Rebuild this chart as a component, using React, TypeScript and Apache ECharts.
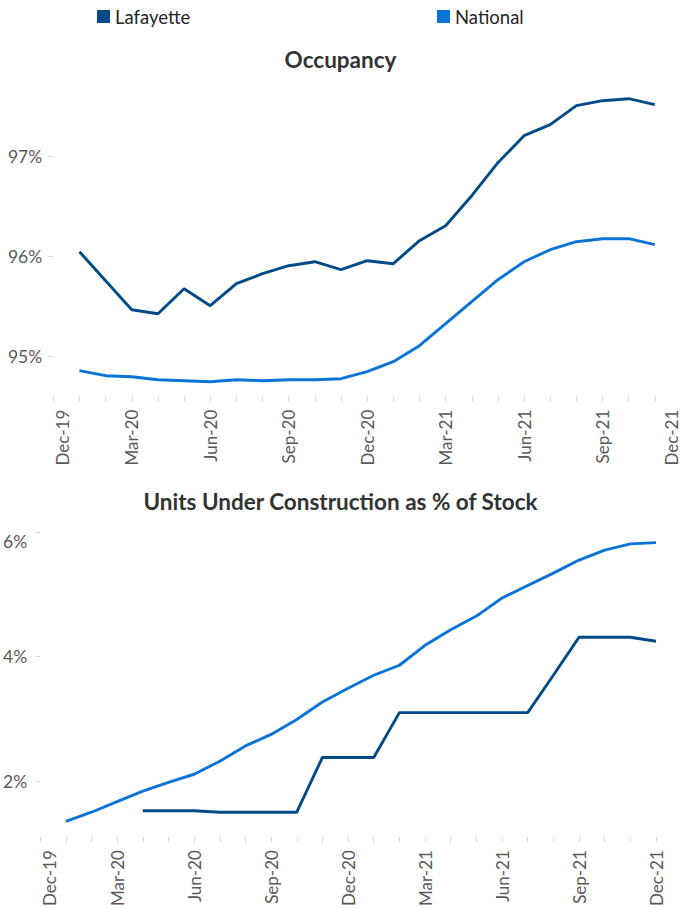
import React, { useEffect, useRef } from 'react';
import * as echarts from 'echarts';

const months = [
  'Dec-19', 'Jan-20', 'Feb-20', 'Mar-20', 'Apr-20', 'May-20', 'Jun-20', 'Jul-20', 'Aug-20', 'Sep-20',
  'Oct-20', 'Nov-20', 'Dec-20', 'Jan-21', 'Feb-21', 'Mar-21', 'Apr-21', 'May-21', 'Jun-21', 'Jul-21',
  'Aug-21', 'Sep-21', 'Oct-21', 'Nov-21', 'Dec-21',
];

const lafayetteOccupancy = [
  null, 96.05, 95.76, 95.47, 95.43, 95.68, 95.51, 95.73, 95.83, 95.91, 95.95, 95.87, 95.96,
  95.93, 96.16, 96.31, 96.61, 96.94, 97.21, 97.32, 97.51, 97.56, 97.58, 97.52, null,
];
const nationalOccupancy = [
  null, 94.86, 94.81, 94.8, 94.77, 94.76, 94.75, 94.77, 94.76, 94.77, 94.77, 94.78, 94.85,
  94.95, 95.11, 95.33, 95.55, 95.77, 95.95, 96.07, 96.15, 96.18, 96.18, 96.12, null,
];

const lafayetteConstruction = [
  null, null, null, null, 1.525, 1.525, 1.525, 1.5, 1.5, 1.5, 1.5, 2.38, 2.38,
  2.38, 3.1, 3.1, 3.1, 3.1, 3.1, 3.1, 3.7, 4.31, 4.31, 4.31, 4.245,
];
const nationalConstruction = [
  null, 1.355, 1.5, 1.67, 1.84, 1.98, 2.11, 2.32, 2.565, 2.75, 2.99, 3.27, 3.49,
  3.7, 3.86, 4.18, 4.43, 4.65, 4.94, 5.14, 5.34, 5.55, 5.71, 5.81, 5.83,
];

const occupancyTicks = [95, 96, 97];
const constructionTicks = [2, 4, 6];

const LAF = '#004B87';
const NAT = '#0A74D6';
const FONT = 'Lato, Carlito, "Open Sans", sans-serif';
const GRAY = '#595959';
const X_FONT = 17;
const Y_FONT = 17.5;

function xAxisCfg(gridIndex: number, pullLast: boolean) {
  const last = months.length - 1;
  return {
    type: 'category',
    gridIndex,
    data: months,
    boundaryGap: false,
    axisLine: { show: false },
    axisTick: { show: true, interval: 0, length: 5, lineStyle: { color: '#D9D9D9', width: 1 } },
    axisLabel: {
      interval: 2,
      rotate: 90,
      margin: 13,
      color: GRAY,
      fontSize: X_FONT,
      fontFamily: FONT,
      formatter: (v: string, i: number) => {
        if (i === 0) return `{first|${v}}`;
        if (pullLast && i === last) return `{last|${v}}`;
        return `{n|${v}}`;
      },
      rich: {
        first: { padding: [19, 0, 0, 0], color: GRAY, fontSize: X_FONT, fontFamily: FONT },
        last: { padding: [0, 0, 20, 0], color: GRAY, fontSize: X_FONT, fontFamily: FONT },
        n: { color: GRAY, fontSize: X_FONT, fontFamily: FONT },
      },
    },
    splitLine: { show: false },
  };
}

function yAxisCfg(gridIndex: number, min: number, max: number, ticks: number[], margin: number, lowerTop: boolean) {
  return {
    type: 'value',
    gridIndex,
    min,
    max,
    axisLine: { show: false },
    axisTick: { show: true, length: 5, customValues: ticks, lineStyle: { color: '#D9D9D9' } },
    axisLabel: {
      customValues: ticks,
      formatter: (v: number) => {
        const t = `${Math.round(v)}%`;
        return lowerTop && Math.abs(v - max) < 1e-6 ? `{low|${t}}` : `{n|${t}}`;
      },
      rich: {
        low: { padding: [18, 0, 0, 0], color: GRAY, fontSize: Y_FONT, fontFamily: FONT },
        n: { color: GRAY, fontSize: Y_FONT, fontFamily: FONT },
      },
      color: GRAY,
      fontSize: Y_FONT,
      fontFamily: FONT,
      margin,
    },
    splitLine: { show: false },
  };
}

export default function App() {
  const ref = useRef<HTMLDivElement>(null);
  useEffect(() => {
    const chart = echarts.init(ref.current!, null, { renderer: 'svg' });
    const legendText = { color: '#262626', fontSize: 18.5, fontFamily: FONT };
    const titleText = { fontSize: 22.5, fontWeight: 'bold', color: '#333333', fontFamily: FONT };
    chart.setOption({
      animation: false,
      backgroundColor: '#ffffff',
      title: [
        { text: 'Occupancy', left: 'center', top: 48, padding: 0, textStyle: titleText },
        { text: 'Units Under Construction as % of Stock', left: 'center', top: 490, padding: 0, textStyle: titleText },
      ],
      legend: [
        {
          data: ['Lafayette'], left: 97, top: 7, icon: 'rect', itemWidth: 13, itemHeight: 13,
          padding: 0, textStyle: legendText,
        },
        {
          data: ['National'], left: 437, top: 7, icon: 'rect', itemWidth: 13, itemHeight: 13,
          padding: 0, textStyle: legendText,
        },
      ],
      grid: [
        { left: 53.3, top: 76.7, width: 628.8, height: 320 },
        { left: 36, top: 532, width: 620, height: 306.25 },
      ],
      xAxis: [xAxisCfg(0, true), xAxisCfg(1, false)],
      yAxis: [
        yAxisCfg(0, 94.6, 97.8, occupancyTicks, 11, false),
        yAxisCfg(1, 1.1, 6, constructionTicks, 13, true),
      ],
      series: [
        {
          name: 'Lafayette', type: 'line', xAxisIndex: 0, yAxisIndex: 0, data: lafayetteOccupancy,
          symbol: 'none', lineStyle: { color: LAF, width: 2.9 }, itemStyle: { color: LAF },
        },
        {
          name: 'National', type: 'line', xAxisIndex: 0, yAxisIndex: 0, data: nationalOccupancy,
          symbol: 'none', lineStyle: { color: NAT, width: 2.9 }, itemStyle: { color: NAT },
        },
        {
          name: 'Lafayette', type: 'line', xAxisIndex: 1, yAxisIndex: 1, data: lafayetteConstruction,
          symbol: 'none', lineStyle: { color: LAF, width: 2.9 }, itemStyle: { color: LAF },
        },
        {
          name: 'National', type: 'line', xAxisIndex: 1, yAxisIndex: 1, data: nationalConstruction,
          symbol: 'none', lineStyle: { color: NAT, width: 2.9 }, itemStyle: { color: NAT },
        },
      ],
    });
    return () => chart.dispose();
  }, []);
  return (
    <div
      ref={ref}
      style={{ position: 'absolute', left: 0, top: 0, width: 681, height: 909 }}
    />
  );
}
